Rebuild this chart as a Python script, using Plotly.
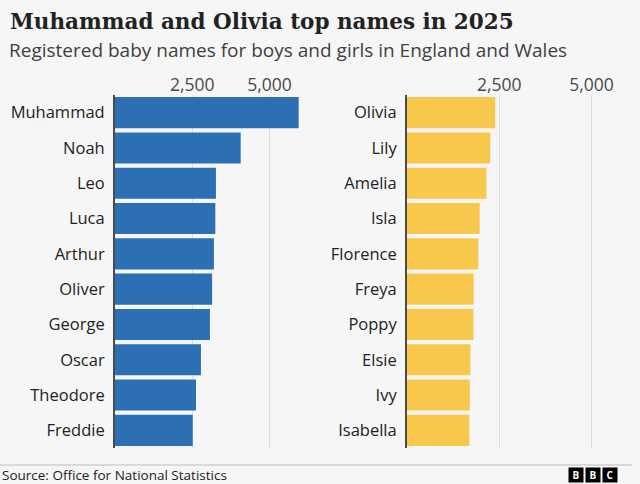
import plotly.graph_objects as go

boys = ["Muhammad", "Noah", "Leo", "Luca", "Arthur", "Oliver", "George", "Oscar", "Theodore", "Freddie"]
boys_counts = [5940, 4065, 3265, 3245, 3200, 3140, 3070, 2780, 2620, 2515]
girls = ["Olivia", "Lily", "Amelia", "Isla", "Florence", "Freya", "Poppy", "Elsie", "Ivy", "Isabella"]
girls_counts = [2390, 2255, 2150, 1970, 1930, 1805, 1800, 1715, 1700, 1690]
tick_vals = [2500, 5000]
tick_text = ["2,500", "5,000"]

BLUE = "#2c70b3"
YELLOW = "#f8c84c"
BG = "#f6f6f6"
SANS = "Open Sans"

fig = go.Figure()
fig.add_trace(go.Bar(y=boys, x=boys_counts, orientation="h", marker=dict(color=BLUE, line=dict(width=0)),
                     xaxis="x", yaxis="y", showlegend=False))
fig.add_trace(go.Bar(y=girls, x=girls_counts, orientation="h", marker=dict(color=YELLOW, line=dict(width=0)),
                     xaxis="x2", yaxis="y2", showlegend=False))

W, H = 640, 484
ydom = [1 - 448 / H, 1 - 95 / H]
xcommon = dict(side="top", tickvals=tick_vals, ticktext=tick_text, showgrid=True, gridcolor="#dcdcdc",
               gridwidth=1, zeroline=False, showline=False, ticks="", ticklabelstandoff=0,
               tickfont=dict(family=SANS, size=17.5, color="#4a4a4a"), fixedrange=True)
ycommon = dict(autorange=False, range=[9.5, -0.5], showgrid=False, zeroline=False, showline=True,
               linecolor="#4a4a4a", linewidth=2, ticks="", ticklabelstandoff=5,
               tickfont=dict(family=SANS, size=16.5, color="#222222"), domain=ydom, type="category")

fig.update_layout(
    width=W, height=H, margin=dict(l=0, r=0, t=0, b=0),
    paper_bgcolor=BG, plot_bgcolor=BG, bargap=0.12,
    xaxis=dict(domain=[115 / W, 305 / W], range=[0, 6145], anchor="y", **xcommon),
    xaxis2=dict(domain=[407 / W, 615 / W], range=[0, 5634], anchor="y2", **xcommon),
    yaxis=dict(anchor="x", **ycommon),
    yaxis2=dict(anchor="x2", **ycommon),
)

annos = [
    dict(text="<b>Muhammad and Olivia top names in 2025</b>", x=8 / W, y=1 - 22 / H, xanchor="left",
         yanchor="middle", font=dict(family="DejaVu Serif", size=21.5, color="#222222"), showarrow=False),
    dict(text="Registered baby names for boys and girls in England and Wales", x=7 / W, y=1 - 50 / H,
         xanchor="left", yanchor="middle", font=dict(family=SANS, size=19, color="#404040"), showarrow=False),
    dict(text="Source: Office for National Statistics", x=0, y=1 - 475 / H, xanchor="left", yanchor="middle",
         font=dict(family=SANS, size=13.5, color="#222222"), showarrow=False),
]
for i, letter in enumerate(["B", "B", "C"]):
    annos.append(dict(text="<b>%s</b>" % letter, x=(576 + 17 * i) / W, y=1 - 475 / H, xanchor="center",
                      yanchor="middle", width=12, height=12, bgcolor="#000000",
                      font=dict(family=SANS, size=10, color="#ffffff"), showarrow=False))
for a in annos:
    a.update(xref="paper", yref="paper")
fig.update_layout(annotations=annos)

fig.add_shape(type="line", xref="paper", yref="paper", x0=0, x1=632 / W, y0=1 - 465 / H, y1=1 - 465 / H,
              line=dict(color="#bdbdbd", width=1))

fig.write_html("out.html")
